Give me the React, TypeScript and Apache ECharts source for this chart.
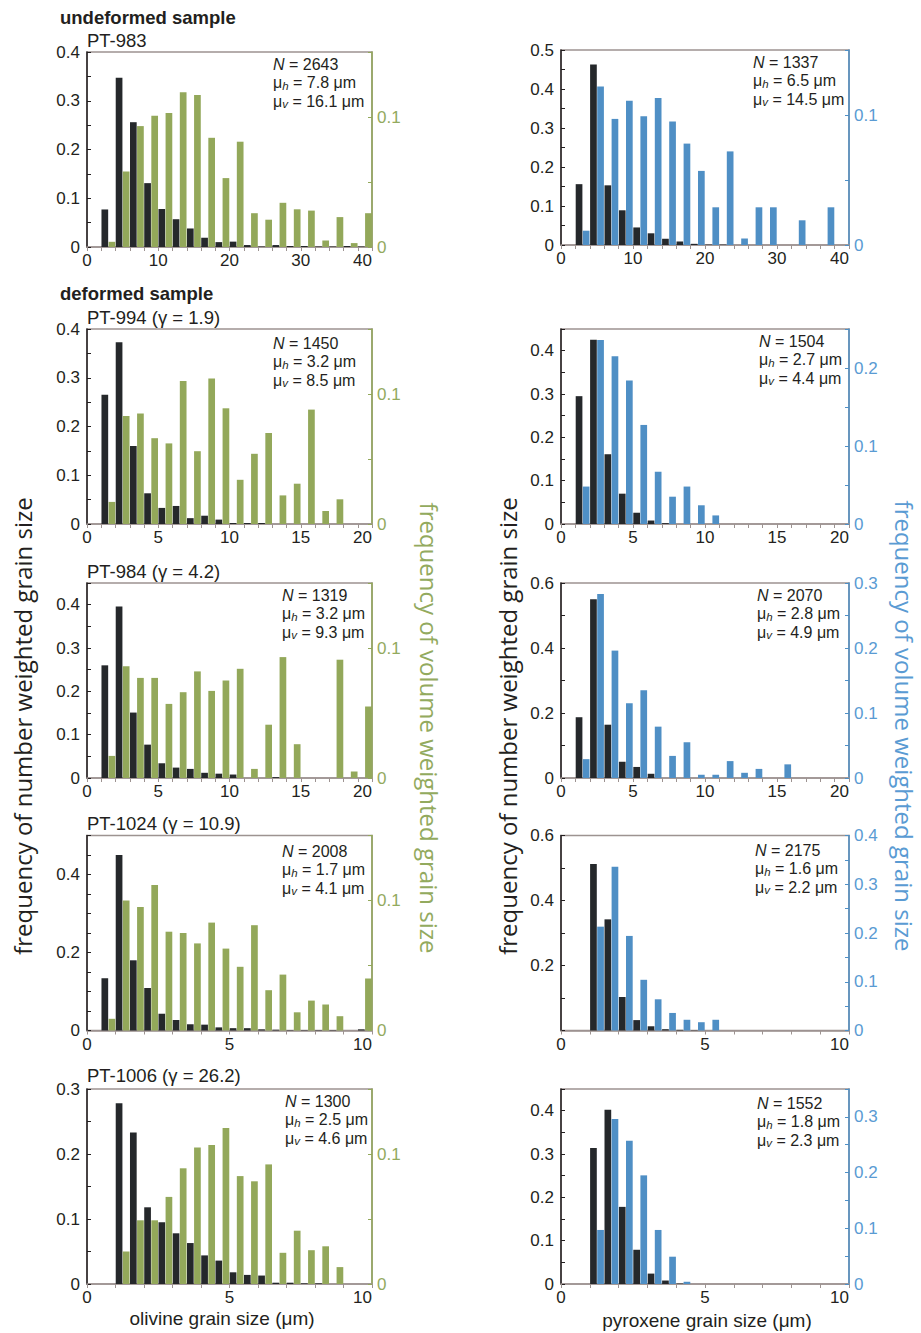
import React, { useEffect, useRef } from 'react';
import * as echarts from 'echarts';

// ---------- text ----------
const groupTitles = ['undeformed sample', 'deformed sample'];
const sampleTitles = ['PT-983', 'PT-994 (γ = 1.9)', 'PT-984 (γ = 4.2)', 'PT-1024 (γ = 10.9)', 'PT-1006 (γ = 26.2)'];
const numberAxisTitle = 'frequency of number weighted grain size';
const volumeAxisTitle = 'frequency of volume weighted grain size';
const olivineXTitle = 'olivine grain size (μm)';
const pyroxeneXTitle = 'pyroxene grain size (μm)';

const olivineN = ['2643', '1450', '1319', '2008', '1300'];
const olivineMuH = ['7.8', '3.2', '3.2', '1.7', '2.5'];
const olivineMuV = ['16.1', '8.5', '9.3', '4.1', '4.6'];
const pyroxeneN = ['1337', '1504', '2070', '2175', '1552'];
const pyroxeneMuH = ['6.5', '2.7', '2.8', '1.6', '1.8'];
const pyroxeneMuV = ['14.5', '4.4', '4.9', '2.2', '2.3'];

// ---------- bins ----------
const binWidth = [2, 1, 1, 0.5, 0.5];
const olivineBinStart = [2, 1, 1, 0.5, 1];
const pyroxeneBinStart = [2, 1, 1, 1, 1];

// ---------- data: number weighted (left axis) / volume weighted (right axis) ----------
const pt983OlNumber = [0.077, 0.347, 0.256, 0.131, 0.078, 0.057, 0.038, 0.019, 0.010, 0.011, 0.004, 0.001, 0.004, 0.002, 0.002, 0.001, 0.001, 0.002, 0.001];
const pt983OlVolume = [0.004, 0.058, 0.093, 0.101, 0.103, 0.119, 0.117, 0.084, 0.053, 0.081, 0.026, 0.021, 0.034, 0.029, 0.028, 0.005, 0.023, 0.003, 0.026];
const pt983PxNumber = [0.156, 0.463, 0.153, 0.089, 0.045, 0.030, 0.016, 0.009, 0.003, 0.001, 0.001, 0, 0, 0, 0, 0, 0, 0, 0];
const pt983PxVolume = [0.011, 0.122, 0.097, 0.111, 0.099, 0.113, 0.095, 0.078, 0.057, 0.029, 0.072, 0.005, 0.029, 0.029, 0, 0.019, 0, 0.029, 0];

const pt994OlNumber = [0.265, 0.373, 0.160, 0.063, 0.033, 0.037, 0.012, 0.017, 0.009, 0.002, 0.002, 0.002, 0, 0, 0, 0, 0];
const pt994OlVolume = [0.017, 0.083, 0.085, 0.066, 0.062, 0.110, 0.056, 0.112, 0.089, 0.034, 0.054, 0.070, 0.022, 0.031, 0.088, 0.010, 0.019];
const pt994PxNumber = [0.295, 0.425, 0.161, 0.070, 0.026, 0.008, 0.002, 0, 0, 0];
const pt994PxVolume = [0.048, 0.236, 0.215, 0.184, 0.127, 0.067, 0.035, 0.048, 0.024, 0.011];

const pt984OlNumber = [0.260, 0.396, 0.151, 0.077, 0.034, 0.024, 0.021, 0.012, 0.010, 0.008, 0, 0, 0.002, 0, 0, 0, 0, 0, 0];
const pt984OlVolume = [0.017, 0.086, 0.077, 0.077, 0.057, 0.066, 0.082, 0.067, 0.075, 0.084, 0.007, 0.041, 0.093, 0.026, 0, 0, 0.091, 0.005, 0.055];
const pt984PxNumber = [0.187, 0.550, 0.164, 0.050, 0.034, 0.013, 0, 0, 0, 0, 0, 0, 0, 0, 0];
const pt984PxVolume = [0.029, 0.283, 0.196, 0.115, 0.135, 0.079, 0.034, 0.055, 0.005, 0.005, 0.026, 0.008, 0.014, 0, 0.021];

const pt1024OlNumber = [0.134, 0.450, 0.180, 0.109, 0.043, 0.027, 0.016, 0.015, 0.008, 0.006, 0.006, 0.003, 0.002, 0.001, 0.001, 0.001, 0.001, 0, 0.003];
const pt1024OlVolume = [0.009, 0.100, 0.095, 0.112, 0.076, 0.075, 0.067, 0.083, 0.063, 0.049, 0.081, 0.031, 0.043, 0.014, 0.023, 0.020, 0.011, 0, 0.040];
const pt1024PxNumber = [0.512, 0.342, 0.103, 0.032, 0.013, 0.004, 0.002, 0.001, 0];
const pt1024PxVolume = [0.213, 0.336, 0.194, 0.104, 0.064, 0.036, 0.022, 0.017, 0.022];

const pt1006OlNumber = [0.278, 0.233, 0.118, 0.095, 0.078, 0.063, 0.044, 0.036, 0.018, 0.014, 0.013, 0.002, 0.002, 0.001, 0.001, 0];
const pt1006OlVolume = [0.025, 0.049, 0.049, 0.067, 0.089, 0.105, 0.107, 0.120, 0.083, 0.079, 0.092, 0.024, 0.041, 0.026, 0.029, 0.013];
const pt1006PxNumber = [0.314, 0.402, 0.178, 0.079, 0.024, 0.008, 0.001];
const pt1006PxVolume = [0.097, 0.296, 0.257, 0.195, 0.097, 0.049, 0.004];

const olivineNumber = [pt983OlNumber, pt994OlNumber, pt984OlNumber, pt1024OlNumber, pt1006OlNumber];
const olivineVolume = [pt983OlVolume, pt994OlVolume, pt984OlVolume, pt1024OlVolume, pt1006OlVolume];
const pyroxeneNumber = [pt983PxNumber, pt994PxNumber, pt984PxNumber, pt1024PxNumber, pt1006PxNumber];
const pyroxeneVolume = [pt983PxVolume, pt994PxVolume, pt984PxVolume, pt1024PxVolume, pt1006PxVolume];

// ---------- axis scales / ticks ----------
const xMax = [40, 20, 20, 10, 10];
const xTickStep = [2, 1, 1, 1, 1];
const xLabelStep = [10, 5, 5, 5, 5];

const olivineYMax = [0.4, 0.4, 0.45, 0.5, 0.3];
const olivineYTick = [0.05, 0.05, 0.05, 0.05, 0.05];
const olivineYLabelStep = [0.1, 0.1, 0.1, 0.2, 0.1];
const olivineY2Max = [0.15, 0.15, 0.15, 0.15, 0.15];

const pyroxeneYMax = [0.5, 0.45, 0.6, 0.6, 0.45];
const pyroxeneYTick = [0.05, 0.05, 0.1, 0.1, 0.05];
const pyroxeneYLabelStep = [0.1, 0.1, 0.2, 0.2, 0.1];
const pyroxeneYHideZero = [false, false, false, true, false];
const pyroxeneY2Max = [0.15, 0.25, 0.3, 0.4, 0.35];

const y2Tick = 0.05;
const y2LabelStep = 0.1;

// ---------- layout / style ----------
const FONT = '"Liberation Sans", Arial, Helvetica, sans-serif';
const BIG_FONT = '"Open Sans", "Noto Sans", sans-serif';
const TEXT = '#231f20';
const FRAME = '#9d9391';
const BLACK_BAR = '#25282b';
const GREEN_BAR = '#93a85a';
const GREEN_AXIS = '#93a85a';
const GREEN_TEXT = '#93aa5e';
const BLUE_BAR = '#4f8fc5';
const BLUE_AXIS = '#4f8fc5';
const BLUE_TEXT = '#5a9bd3';

const colX = [87, 561];
const colW = [285, 288];
const rowTop = [[52, 50], [329, 329], [583, 583], [835.5, 835.5], [1089, 1089]];
const PLOT_H = 195;
const annX = [[273, 753], [273, 759], [282, 757], [282, 755], [285, 757]];
const annY = [[64, 62], [343, 341], [595, 595], [851, 850], [1101, 1103]];
const titleY = [40, 317, 571, 823, 1075];
const groupTitleY = [17, 293];

function stepFormatter(step: number, hideZero = false) {
  return (v: number) => {
    const r = v / step;
    if (Math.abs(r - Math.round(r)) > 1e-6) return '';
    if (Math.abs(v) < 1e-9) return hideZero ? '' : '0';
    return String(parseFloat(v.toFixed(2)));
  };
}

function buildOption() {
  const grid: any[] = [];
  const xAxis: any[] = [];
  const yAxis: any[] = [];
  const series: any[] = [];
  const graphic: any[] = [];

  for (let r = 0; r < 5; r++) {
    for (let c = 0; c < 2; c++) {
      const idx = r * 2 + c;
      const isOl = c === 0;
      const numArr = isOl ? olivineNumber[r] : pyroxeneNumber[r];
      const volArr = isOl ? olivineVolume[r] : pyroxeneVolume[r];
      const start = isOl ? olivineBinStart[r] : pyroxeneBinStart[r];
      const bw = binWidth[r];
      const volColor = isOl ? GREEN_BAR : BLUE_BAR;
      const axisColor = isOl ? GREEN_AXIS : BLUE_AXIS;
      const axisText = isOl ? GREEN_TEXT : BLUE_TEXT;
      const top = rowTop[r][c];

      grid.push({
        left: colX[c], top, width: colW[c], height: PLOT_H,
        show: true, borderColor: FRAME, borderWidth: 1.5, backgroundColor: 'transparent',
        containLabel: false,
      });

      xAxis.push({
        type: 'value', gridIndex: idx, min: 0, max: xMax[r], interval: xTickStep[r],
        axisLine: { show: true, onZero: false, lineStyle: { color: FRAME, width: 1.5 } },
        axisTick: { show: true, inside: false, length: 4, lineStyle: { color: FRAME, width: 1 } },
        axisLabel: {
          formatter: stepFormatter(xLabelStep[r]), color: TEXT, fontSize: 17, fontFamily: FONT, margin: 5,
          alignMaxLabel: 'right',
        },
        splitLine: { show: false },
      });

      const yMax = isOl ? olivineYMax[r] : pyroxeneYMax[r];
      const yTick = isOl ? olivineYTick[r] : pyroxeneYTick[r];
      const yStep = isOl ? olivineYLabelStep[r] : pyroxeneYLabelStep[r];
      const hideZero = isOl ? false : pyroxeneYHideZero[r];
      yAxis.push({
        type: 'value', gridIndex: idx, position: 'left', min: 0, max: yMax, interval: yTick,
        axisLine: { show: true, onZero: false, lineStyle: { color: TEXT, width: 1.5 } },
        axisTick: { show: true, inside: true, length: 4, lineStyle: { color: TEXT, width: 1 } },
        axisLabel: { formatter: stepFormatter(yStep, hideZero), color: TEXT, fontSize: 17, fontFamily: FONT, margin: 7 },
        splitLine: { show: false },
      });
      const y2Max = isOl ? olivineY2Max[r] : pyroxeneY2Max[r];
      yAxis.push({
        type: 'value', gridIndex: idx, position: 'right', min: 0, max: y2Max, interval: y2Tick,
        axisLine: { show: true, onZero: false, lineStyle: { color: axisColor, width: 1.5 } },
        axisTick: { show: true, inside: true, length: 4, lineStyle: { color: axisColor, width: 1 } },
        axisLabel: { formatter: stepFormatter(y2LabelStep), color: axisText, fontSize: 17, fontFamily: FONT, margin: 5 },
        splitLine: { show: false },
      });

      series.push({
        type: 'bar', xAxisIndex: idx, yAxisIndex: idx * 2,
        data: numArr.map((v, i) => [start + bw * i + bw / 2, v]),
        barWidth: 6.7, barGap: '6%',
        itemStyle: { color: BLACK_BAR }, silent: true,
      });
      series.push({
        type: 'bar', xAxisIndex: idx, yAxisIndex: idx * 2 + 1,
        data: volArr.map((v, i) => [start + bw * i + bw / 2, v]),
        barWidth: 6.7, barGap: '6%',
        itemStyle: { color: volColor }, silent: true,
      });

      const n = isOl ? olivineN[r] : pyroxeneN[r];
      const mh = isOl ? olivineMuH[r] : pyroxeneMuH[r];
      const mv = isOl ? olivineMuV[r] : pyroxeneMuV[r];
      graphic.push({
        type: 'text', x: annX[r][c], y: annY[r][c] - 9.25, silent: true,
        style: {
          text: `{i|N} = ${n}\nμ{s|h} = ${mh} μm\nμ{s|v} = ${mv} μm`,
          fontSize: 16, fontFamily: FONT, fill: TEXT, lineHeight: 18.5,
          align: 'left', verticalAlign: 'top',
          rich: {
            i: { fontStyle: 'italic', fontSize: 16, fontFamily: FONT, fill: TEXT, lineHeight: 18.5 },
            s: { fontStyle: 'italic', fontSize: 11.5, fontFamily: FONT, fill: TEXT, lineHeight: 18.5, verticalAlign: 'bottom' },
          },
        },
      });
    }
    graphic.push({
      type: 'text', x: colX[0], y: titleY[r], silent: true,
      style: { text: sampleTitles[r], fontSize: 18.5, fontFamily: FONT, fill: TEXT, align: 'left', verticalAlign: 'middle' },
    });
  }

  groupTitles.forEach((t, i) => {
    graphic.push({
      type: 'text', x: 60, y: groupTitleY[i], silent: true,
      style: { text: t, fontSize: 18.5, fontWeight: 'bold', fontFamily: FONT, fill: TEXT, align: 'left', verticalAlign: 'middle' },
    });
  });

  graphic.push({
    type: 'text', x: 222, y: 1318, silent: true,
    style: { text: olivineXTitle, fontSize: 19, fontFamily: FONT, fill: TEXT, align: 'center', verticalAlign: 'middle' },
  });
  graphic.push({
    type: 'text', x: 707, y: 1320, silent: true,
    style: { text: pyroxeneXTitle, fontSize: 19, fontFamily: FONT, fill: TEXT, align: 'center', verticalAlign: 'middle' },
  });

  const big = (x: number, y: number, text: string, fill: string, rot: number) => ({
    type: 'text', x, y, rotation: rot, silent: true,
    style: { text, fontSize: 24, fontFamily: BIG_FONT, fill, align: 'center', verticalAlign: 'middle' },
  });
  graphic.push(big(22, 726, numberAxisTitle, TEXT, Math.PI / 2));
  graphic.push(big(429, 728, volumeAxisTitle, GREEN_TEXT, -Math.PI / 2));
  graphic.push(big(507, 726, numberAxisTitle, TEXT, Math.PI / 2));
  graphic.push(big(904, 726, volumeAxisTitle, BLUE_TEXT, -Math.PI / 2));

  return {
    animation: false,
    backgroundColor: '#ffffff',
    grid, xAxis, yAxis, series, graphic,
  };
}

export default function App() {
  const ref = useRef<HTMLDivElement>(null);
  useEffect(() => {
    if (!ref.current) return;
    const chart = echarts.init(ref.current, undefined, { renderer: 'svg' });
    chart.setOption(buildOption() as any);
    return () => chart.dispose();
  }, []);
  return (
    <div
      ref={ref}
      style={{ position: 'absolute', left: 0, top: 0, width: 921, height: 1333 }}
    />
  );
}
